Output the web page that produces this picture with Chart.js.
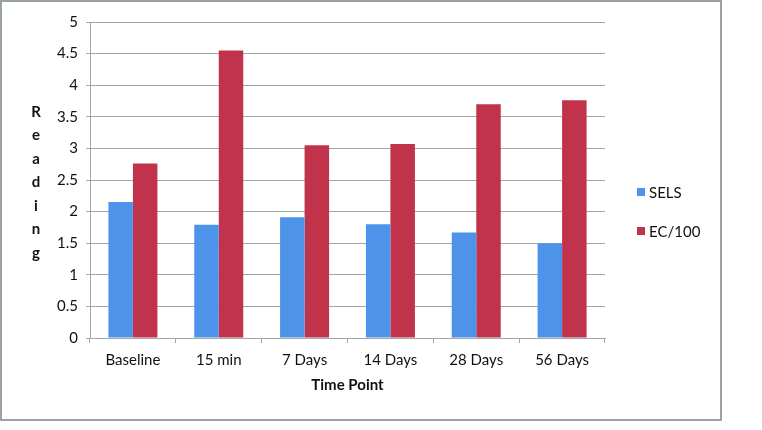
<!DOCTYPE html>
<html>
<head>
<meta charset="utf-8">
<script src="https://cdn.jsdelivr.net/npm/chart.js@4.4.0/dist/chart.umd.min.js"></script>
<style>
  html, body { margin: 0; padding: 0; background: #fff; }
  #wrap { position: relative; width: 762px; height: 430px; }
  #frame {
    position: absolute; left: 0; top: 0; width: 718px; height: 417px;
    border: 2px solid #9aa3a3; pointer-events: none;
  }
  canvas { position: absolute; left: 0; top: 0; }
</style>
</head>
<body>
<div id="wrap">
  <canvas id="chart" width="762" height="430"></canvas>
  <div id="frame"></div>
</div>
<script>
const categories = ["Baseline", "15 min", "7 Days", "14 Days", "28 Days", "56 Days"];
const selsValues = [2.15, 1.79, 1.91, 1.80, 1.67, 1.50];
const ecValues = [2.76, 4.55, 3.05, 3.07, 3.70, 3.76];
const seriesNames = ["SELS", "EC/100"];
const yTitle = "Reading";
const xTitle = "Time Point";

const PALETTE = {
  sels: "#4d93e9",
  ec: "#c1334b",
  grid: "#a0a8a8",
  text: "#111111",
};

const FONT = "Lato, 'Open Sans', sans-serif";

// Excel-style stacked letters for the vertical axis title
const stackedTitle = {
  id: "stackedTitle",
  afterDraw(chart) {
    const ctx = chart.ctx;
    ctx.save();
    ctx.font = "bold 15px " + FONT;
    ctx.fillStyle = PALETTE.text;
    ctx.textAlign = "center";
    ctx.textBaseline = "middle";
    yTitle.split("").forEach((ch, i) => {
      ctx.fillText(ch, 36, 112 + i * 23.5);
    });
    ctx.restore();
  },
};

// legend to the right of the plot, drawn from the datasets
const sideLegend = {
  id: "sideLegend",
  afterDraw(chart) {
    const ctx = chart.ctx;
    ctx.save();
    ctx.font = "15px " + FONT;
    ctx.textAlign = "left";
    ctx.textBaseline = "middle";
    const rows = [193, 232];
    chart.data.datasets.forEach((ds, i) => {
      const y = rows[i];
      ctx.fillStyle = ds.backgroundColor;
      ctx.fillRect(637, y - 5, 8, 8);
      ctx.fillStyle = PALETTE.text;
      ctx.fillText(ds.label, 649, y);
    });
    ctx.restore();
  },
};

function makeChart(ctx) {
  return new Chart(ctx, {
    type: "bar",
    data: {
      labels: categories,
      datasets: [
        { label: seriesNames[0], data: selsValues, backgroundColor: PALETTE.sels },
        { label: seriesNames[1], data: ecValues, backgroundColor: PALETTE.ec },
      ],
    },
    options: {
      responsive: false,
      animation: false,
      layout: { padding: { left: 0, right: 157, top: 22, bottom: 0 } },
      datasets: { bar: { categoryPercentage: 0.571, barPercentage: 1.0 } },
      plugins: { legend: { display: false }, tooltip: { enabled: false } },
      scales: {
        x: {
          grid: { drawOnChartArea: false, color: PALETTE.grid, tickLength: 5, lineWidth: 1 },
          border: { color: PALETTE.grid, width: 1 },
          ticks: { color: PALETTE.text, font: { family: FONT, size: 15 }, padding: 8, maxRotation: 0 },
          title: {
            display: true,
            text: xTitle,
            color: PALETTE.text,
            font: { family: FONT, size: 15, weight: "bold" },
            padding: { top: 0, bottom: 36 },
          },
          afterFit(scale) { scale.height = 92; },
        },
        y: {
          min: 0,
          max: 5,
          ticks: {
            stepSize: 0.5,
            color: PALETTE.text,
            font: { family: FONT, size: 15 },
            padding: 8,
            callback: (v) => String(Number(v)),
          },
          grid: { color: PALETTE.grid, tickLength: 4, lineWidth: 1 },
          border: { color: PALETTE.grid, width: 1 },
          afterFit(scale) { scale.width = 90; },
        },
      },
    },
    plugins: [stackedTitle, sideLegend],
  });
}

makeChart(document.getElementById("chart"));
</script>
</body>
</html>
